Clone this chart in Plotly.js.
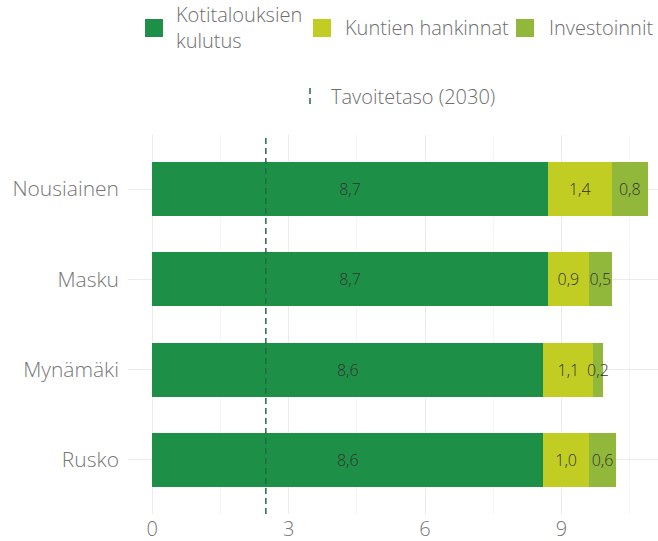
<!DOCTYPE html>
<html>
<head>
<meta charset="utf-8">
<script src="https://cdn.plot.ly/plotly-3.0.1.min.js"></script>
<style>
  html, body { margin: 0; padding: 0; background: #ffffff; }
  #chart { width: 658px; height: 541px; }
</style>
</head>
<body>
<div id="chart"></div>
<script>
// Kunnat (alhaalta ylös)
const municipalities = ['Rusko', 'Mynämäki', 'Masku', 'Nousiainen'];
// Päästöt (t CO2e / asukas) lähteittäin
const householdConsumption = [8.6, 8.6, 8.7, 8.7];
const municipalProcurement = [1.0, 1.1, 0.9, 1.4];
const investments = [0.6, 0.2, 0.5, 0.8];
// Tavoitetaso 2030
const targetLevel = [2.5];
const xTicks = [0, 3, 6, 9];

const seriesNames = ['Kotitalouksien kulutus', 'Kuntien hankinnat', 'Investoinnit'];
const seriesColors = ['#1e8f47', '#c2cd23', '#92b83b'];
const seriesValues = [householdConsumption, municipalProcurement, investments];

const FONT = '"Open Sans", sans-serif';

const traces = seriesValues.map((vals, i) => ({
  type: 'bar',
  orientation: 'h',
  name: seriesNames[i],
  y: municipalities,
  x: vals,
  width: 0.6,
  marker: { color: seriesColors[i], line: { width: 0 } },
  texttemplate: '%{x:.1f}',
  textposition: 'inside',
  insidetextanchor: 'middle',
  constraintext: 'none',
  textangle: 0,
  textfont: { family: FONT, size: 16, color: '#333333', weight: 300 },
  cliponaxis: false,
  hoverinfo: 'skip',
  showlegend: false
}));

// Plot area in pixels
const W = 658, H = 541;
const M = { l: 128, r: 0, t: 135, b: 27 };
const PW = W - M.l - M.r, PH = H - M.t - M.b;
const px = v => (v - M.l) / PW;
const py = v => (H - M.b - v) / PH;

// Tavoiteviiva
const shapes = targetLevel.map(v => ({
  type: 'line', xref: 'x', yref: 'paper',
  x0: v, x1: v, y0: 0, y1: 1,
  line: { color: '#1f6b45', width: 1.5, dash: '6px,4px' },
  layer: 'above'
}));

// Selite
const legendItems = [
  { x: 145, text: 'Kotitalouksien<br>kulutus', tx: 174 },
  { x: 313, text: 'Kuntien hankinnat', tx: 343 },
  { x: 516, text: 'Investoinnit', tx: 547 }
];
const annotations = [];
legendItems.forEach((it, i) => {
  shapes.push({
    type: 'rect', xref: 'paper', yref: 'paper',
    x0: px(it.x), x1: px(it.x + 18), y0: py(19), y1: py(37),
    fillcolor: seriesColors[i], line: { width: 0 }
  });
  annotations.push({
    xref: 'paper', yref: 'paper', x: px(it.tx), y: py(28),
    xanchor: 'left', yanchor: 'middle', align: 'left',
    text: it.text, showarrow: false,
    font: { family: FONT, size: 20, color: '#6e6e6e', weight: 300 }
  });
});
shapes.push({
  type: 'line', xref: 'paper', yref: 'paper',
  x0: px(310), x1: px(310), y0: py(88), y1: py(105),
  line: { color: '#1f6b45', width: 1.5, dash: '6px,4px' }
});
annotations.push({
  xref: 'paper', yref: 'paper', x: px(329), y: py(96),
  xanchor: 'left', yanchor: 'middle',
  text: 'Tavoitetaso (2030)', showarrow: false,
  font: { family: FONT, size: 20, color: '#6e6e6e', weight: 300 }
});

const layout = {
  width: W, height: H,
  barmode: 'stack',
  separators: ', ',
  paper_bgcolor: '#ffffff',
  plot_bgcolor: '#ffffff',
  margin: M,
  font: { family: FONT },
  showlegend: false,
  xaxis: {
    range: [-0.53, 11.12],
    tickvals: xTicks,
    ticktext: xTicks.map(String),
    showgrid: true,
    gridcolor: '#ebebeb',
    gridwidth: 1,
    minor: { dtick: 1.5, tick0: 0, showgrid: true, gridcolor: '#f5f5f5', gridwidth: 1 },
    zeroline: false,
    showline: false,
    ticks: '',
    ticklabelstandoff: 1,
    tickfont: { family: FONT, size: 20, color: '#777777', weight: 300 },
    fixedrange: true
  },
  yaxis: {
    type: 'category',
    categoryorder: 'array',
    categoryarray: municipalities,
    range: [-0.6, 3.6],
    showgrid: true,
    gridcolor: '#ebebeb',
    zeroline: false,
    showline: false,
    ticks: '',
    ticklabelstandoff: 8,
    tickfont: { family: FONT, size: 21, color: '#777777', weight: 300 },
    fixedrange: true
  },
  shapes: shapes,
  annotations: annotations
};

Plotly.newPlot('chart', traces, layout, { staticPlot: true, displayModeBar: false });
</script>
</body>
</html>
